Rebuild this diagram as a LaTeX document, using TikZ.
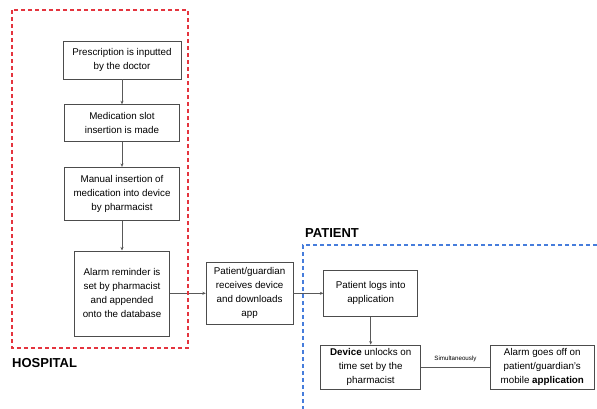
\documentclass[tikz,border=0pt]{standalone}
\usepackage{fontspec}
\setmainfont{Liberation Sans}
\usetikzlibrary{arrows.meta, positioning}

\definecolor{hospred}{RGB}{228,52,62}
\definecolor{patblue}{RGB}{70,125,220}

\begin{document}
\begin{tikzpicture}[
    x=1pt, y=-1pt,
    >={Stealth[length=3.5pt,width=3pt]},
    node distance=25pt,
    font=\fontsize{9.8}{14}\selectfont,
    stepbox/.style={rectangle, draw=black!70, line width=0.6pt, align=center, inner sep=2pt},
    flow/.style={->, draw=black!65, line width=0.6pt},
    link/.style={draw=black!65, line width=0.6pt},
    hospital/.style={draw=hospred, line width=1.1pt, dash pattern=on 4pt off 3pt},
    patient/.style={draw=patblue, line width=1.1pt, dash pattern=on 4pt off 3pt},
    area/.style={font=\fontsize{13}{15}\selectfont\bfseries, anchor=west, inner sep=0pt}
]
\useasboundingbox (0,0) rectangle (597,409);

% Hospital side
\node[stepbox, minimum width=118pt, minimum height=38pt] (prescription) at (122,60) {Prescription is inputted\\by the doctor};
\node[stepbox, minimum width=115pt, minimum height=37pt] (slot) [below=of prescription] {Medication slot\\insertion is made};
\node[stepbox, minimum width=115pt, minimum height=53pt] (manual) [below=of slot] {Manual insertion of\\medication into device\\by pharmacist};
\node[stepbox, minimum width=95pt, minimum height=85pt] (alarmset) [below=30pt of manual] {Alarm reminder is\\set by pharmacist\\and appended\\onto the database};

\draw[flow] (prescription) -- (slot);
\draw[flow] (slot) -- (manual);
\draw[flow] (manual) -- (alarmset);

% Hand over
\node[stepbox, minimum width=87pt, minimum height=62pt] (receive) [right=36pt of alarmset] {Patient/guardian\\receives device\\and downloads\\app};
\draw[flow] (alarmset) -- (receive);

% Patient side
\node[stepbox, minimum width=94pt, minimum height=46pt] (login) [right=30pt of receive] {Patient logs into\\application};
\node[stepbox, minimum width=100pt, minimum height=44pt] (unlock) [below=28pt of login] {\textbf{Device} unlocks on\\time set by the\\pharmacist};
\node[stepbox, minimum width=104pt, minimum height=44pt] (alarmoff) [right=69pt of unlock] {Alarm goes off on\\patient/guardian's\\mobile \textbf{application}};

\draw[flow] (receive) -- (login);
\draw[flow] (login) -- (unlock);
\draw[link] (unlock) -- node[above, yshift=1pt, font=\fontsize{6.2}{7}\selectfont] {Simultaneously} (alarmoff);

% Areas
\draw[hospital] (12,10) rectangle (188,348);
\node[area] (hosplabel) at (12,363) {HOSPITAL};
\draw[patient] (597,245) -- (303,245) -- (303,409);
\node[area] (patlabel) at (305,233) {PATIENT};

\end{tikzpicture}
\end{document}
